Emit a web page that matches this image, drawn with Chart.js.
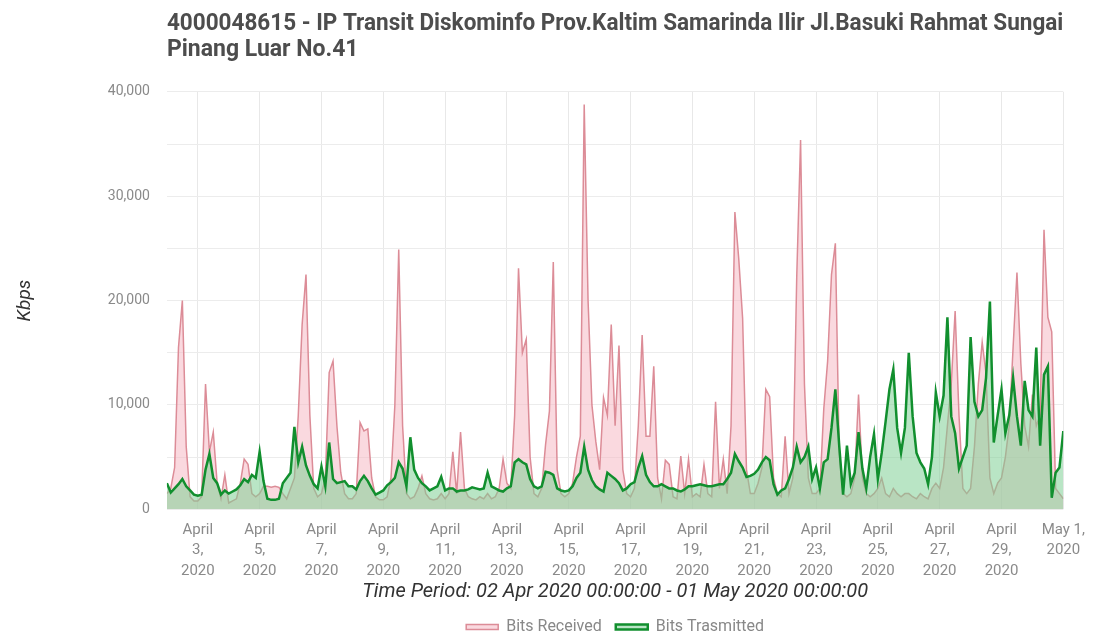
<!DOCTYPE html>
<html>
<head>
<meta charset="utf-8">
<script src="https://cdn.jsdelivr.net/npm/chart.js"></script>
<style>
  html, body { margin: 0; padding: 0; background: #fff; }
  #wrap { width: 1096px; height: 636px; }
</style>
</head>
<body>
<div id="wrap"><canvas id="chart"></canvas></div>
<script>
// chart text
const titleLines = [
  '4000048615 - IP Transit Diskominfo Prov.Kaltim Samarinda Ilir Jl.Basuki Rahmat Sungai',
  'Pinang Luar No.41'
];
const xTitle = 'Time Period: 02 Apr 2020 00:00:00 - 01 May 2020 00:00:00';
const yTitle = 'Kbps';

// x axis: days since 02 Apr 2020 00:00, one sample every 3 hours
const stepHours = 3;
const tickDays = [1, 3, 5, 7, 9, 11, 13, 15, 17, 19, 21, 23, 25, 27, 29];
const tickLabels = [
  ['April', '3,', '2020'], ['April', '5,', '2020'], ['April', '7,', '2020'],
  ['April', '9,', '2020'], ['April', '11,', '2020'], ['April', '13,', '2020'],
  ['April', '15,', '2020'], ['April', '17,', '2020'], ['April', '19,', '2020'],
  ['April', '21,', '2020'], ['April', '23,', '2020'], ['April', '25,', '2020'],
  ['April', '27,', '2020'], ['April', '29,', '2020'], ['May 1,', '2020']
];

// Kbps, 8 samples per day
const bitsReceived = [
  1500, 2000, 4000, 15500, 20000, 6000, 1200, 800,      // Apr 2
  800, 1200, 12000, 5500, 7400, 2500, 1000, 3300,       // Apr 3
  600, 800, 1000, 2500, 4800, 4300, 1500, 1200,         // Apr 4
  1500, 2200, 2200, 2100, 2200, 2100, 1500, 1000,       // Apr 5
  2000, 3000, 9000, 17700, 22500, 9000, 2000, 1200,     // Apr 6
  1500, 3000, 13100, 14200, 8000, 3500, 1500, 1000,     // Apr 7
  1000, 1500, 8300, 7500, 7700, 3000, 1200, 900,        // Apr 8
  900, 1200, 3000, 10000, 24900, 8000, 1500, 1000,      // Apr 9
  1200, 2000, 3200, 1500, 1000, 900, 1000, 1500,        // Apr 10
  1000, 1500, 5500, 1500, 7400, 2000, 1200, 1000,       // Apr 11
  900, 1200, 1000, 1500, 1000, 1200, 2000, 4800,        // Apr 12
  2500, 2000, 9000, 23100, 15000, 16300, 5000, 1500,    // Apr 13
  1200, 2000, 6200, 9400, 23700, 3800, 1500, 1200,      // Apr 14
  1500, 2500, 5000, 7000, 38800, 20000, 10000, 6500,    // Apr 15
  3800, 10700, 9000, 17700, 8000, 15700, 3800, 1500,    // Apr 16
  1200, 2000, 8000, 16700, 7000, 7000, 13700, 3000,     // Apr 17
  1000, 4700, 4300, 1200, 1000, 5100, 1500, 4800,       // Apr 18
  1200, 1500, 1200, 4300, 1500, 1200, 10300, 2000,      // Apr 19
  4800, 1500, 8000, 28500, 24000, 18300, 3800, 1500,    // Apr 20
  1500, 2500, 4000, 11500, 10800, 3000, 1500, 1200,     // Apr 21
  7000, 1500, 3000, 22200, 35400, 12000, 3000, 1500,    // Apr 22
  1500, 2000, 9600, 14200, 22500, 25500, 5400, 1500,    // Apr 23
  1200, 1500, 3000, 11000, 3000, 1500, 1200, 1500,      // Apr 24
  2000, 3000, 1500, 1200, 2000, 1500, 1200, 1500,       // Apr 25
  1500, 1200, 1000, 1500, 1200, 1000, 2000, 2500,       // Apr 26
  2000, 4000, 8000, 12000, 19000, 9000, 2000, 1500,     // Apr 27
  2000, 6000, 12000, 16000, 13000, 3000, 1500, 2500,    // Apr 28
  3000, 5000, 8000, 15500, 22700, 14000, 8000, 6000,    // Apr 29
  11000, 8000, 9000, 26800, 18400, 17000, 2000, 1500,   // Apr 30
  1000                                                  // May 1 00:00
];

const bitsTransmitted = [
  2500, 1600, 2000, 2400, 2900, 2200, 1800, 1400,       // Apr 2
  1300, 1400, 3800, 5300, 3000, 2500, 1400, 1800,       // Apr 3
  1500, 1700, 1900, 2300, 2900, 2600, 3300, 3000,       // Apr 4
  5500, 2700, 1000, 900, 900, 1000, 2500, 3000,         // Apr 5
  3500, 7900, 4500, 6000, 4200, 3200, 2400, 2000,       // Apr 6
  4100, 2200, 6400, 2900, 2500, 2600, 2700, 2200,       // Apr 7
  2200, 1900, 2700, 3200, 2700, 2000, 1400, 1600,       // Apr 8
  1800, 2300, 2600, 3000, 4500, 3900, 2200, 6900,       // Apr 9
  3800, 3000, 2500, 2200, 1800, 2000, 2200, 3100,       // Apr 10
  1800, 2000, 2000, 1700, 1800, 1800, 1900, 2100,       // Apr 11
  2000, 1900, 2000, 3500, 2200, 2000, 1800, 1700,       // Apr 12
  2000, 2200, 4500, 4800, 4500, 4300, 2900, 2200,       // Apr 13
  2000, 2200, 3600, 3500, 3300, 2000, 1800, 1700,       // Apr 14
  1800, 2200, 3000, 3500, 6000, 3800, 2800, 2200,       // Apr 15
  1900, 1700, 3500, 3200, 2900, 2500, 1800, 2000,       // Apr 16
  2400, 2600, 4000, 5100, 3300, 2600, 2200, 2200,       // Apr 17
  2400, 2200, 2000, 2000, 1800, 1700, 1900, 2200,       // Apr 18
  2200, 2300, 2400, 2300, 2200, 2200, 2300, 2400,       // Apr 19
  2400, 2900, 3500, 5300, 4600, 4000, 3100, 3200,       // Apr 20
  3400, 3800, 4500, 5000, 4700, 2400, 1400, 1800,       // Apr 21
  2000, 2900, 4000, 6000, 4500, 5000, 6000, 2900,       // Apr 22
  4000, 2000, 4500, 4800, 7800, 11500, 6100, 1400,      // Apr 23
  6100, 2400, 3500, 7400, 3900, 2000, 5000, 7200,       // Apr 24
  2900, 5400, 8400, 11500, 13400, 7800, 5400, 7800,     // Apr 25
  15000, 8900, 5400, 4500, 3900, 2400, 5000, 11200,     // Apr 26
  8900, 10900, 18400, 8900, 7300, 3900, 5000, 6100,     // Apr 27
  16500, 10300, 8900, 9500, 12600, 19900, 6400, 9000,   // Apr 28
  11500, 7300, 9000, 12600, 8900, 6100, 12300, 9500,    // Apr 29
  8900, 15500, 6100, 12900, 13700, 1100, 3500, 4000,    // Apr 30
  7500                                                  // May 1 00:00
];

const toPoints = arr => arr.map((v, i) => ({ x: i * stepHours / 24, y: v }));

const fontFamily = 'Roboto, "Liberation Sans", sans-serif';

const ctx = document.getElementById('chart').getContext('2d');
new Chart(ctx, {
  type: 'line',
  data: {
    datasets: [
      {
        label: 'Bits Received',
        data: toPoints(bitsReceived),
        borderColor: '#dc8c97',
        backgroundColor: 'rgba(246, 186, 197, 0.55)',
        borderWidth: 1.5,
        fill: 'origin',
        order: 2,
      },
      {
        label: 'Bits Trasmitted',
        data: toPoints(bitsTransmitted),
        borderColor: '#118f2e',
        backgroundColor: 'rgba(128, 208, 150, 0.55)',
        borderWidth: 2.5,
        fill: 'origin',
        order: 1,
      },
    ],
  },
  options: {
    responsive: true,
    maintainAspectRatio: false,
    animation: false,
    elements: {
      point: { radius: 0 },
      line: { tension: 0 },
    },
    layout: {
      // negative bottom: legend sits close to the canvas edge
      padding: { left: 14, right: 32, top: 4, bottom: -9 },
    },
    scales: {
      x: {
        type: 'linear',
        min: 0,
        max: 29,
        afterBuildTicks: axis => {
          axis.ticks = tickDays.map(v => ({ value: v }));
        },
        ticks: {
          autoSkip: false,
          maxRotation: 0,
          padding: 11,
          color: '#8a8a8a',
          font: { family: fontFamily, size: 15, lineHeight: 1.35 },
          callback: (value, index) => tickLabels[index],
        },
        grid: { color: '#e8e8e8', drawTicks: false },
        border: { display: false },
        title: {
          display: true,
          text: xTitle,
          color: '#333',
          font: { family: fontFamily, size: 20, style: 'italic', lineHeight: 1 },
          padding: { top: -10, bottom: 3 },
        },
      },
      y: {
        min: 0,
        max: 40000,
        ticks: {
          stepSize: 5000,
          padding: 17,
          color: '#8a8a8a',
          font: { family: fontFamily, size: 14 },
          callback: value => (value % 10000 === 0 ? value.toLocaleString('en-US') : ''),
        },
        grid: { color: '#ececec', drawTicks: false },
        border: { display: false },
        title: {
          display: true,
          text: yTitle,
          color: '#333',
          font: { family: fontFamily, size: 19, style: 'italic' },
          padding: { top: 0, bottom: 54 },
        },
      },
    },
    plugins: {
      title: {
        display: true,
        fullSize: false,
        align: 'start',
        text: titleLines,
        color: '#4d4d4d',
        font: { family: fontFamily, size: 23, weight: 'bold', lineHeight: 1.13 },
        padding: { top: 7, bottom: 29 },
      },
      legend: {
        position: 'bottom',
        fullSize: false,
        labels: {
          boxWidth: 32,
          boxHeight: 5,
          padding: 14,
          color: '#888',
          font: { family: fontFamily, size: 16 },
          sort: (a, b) => a.datasetIndex - b.datasetIndex,
        },
      },
      tooltip: { enabled: false },
    },
  },
});
</script>
</body>
</html>
